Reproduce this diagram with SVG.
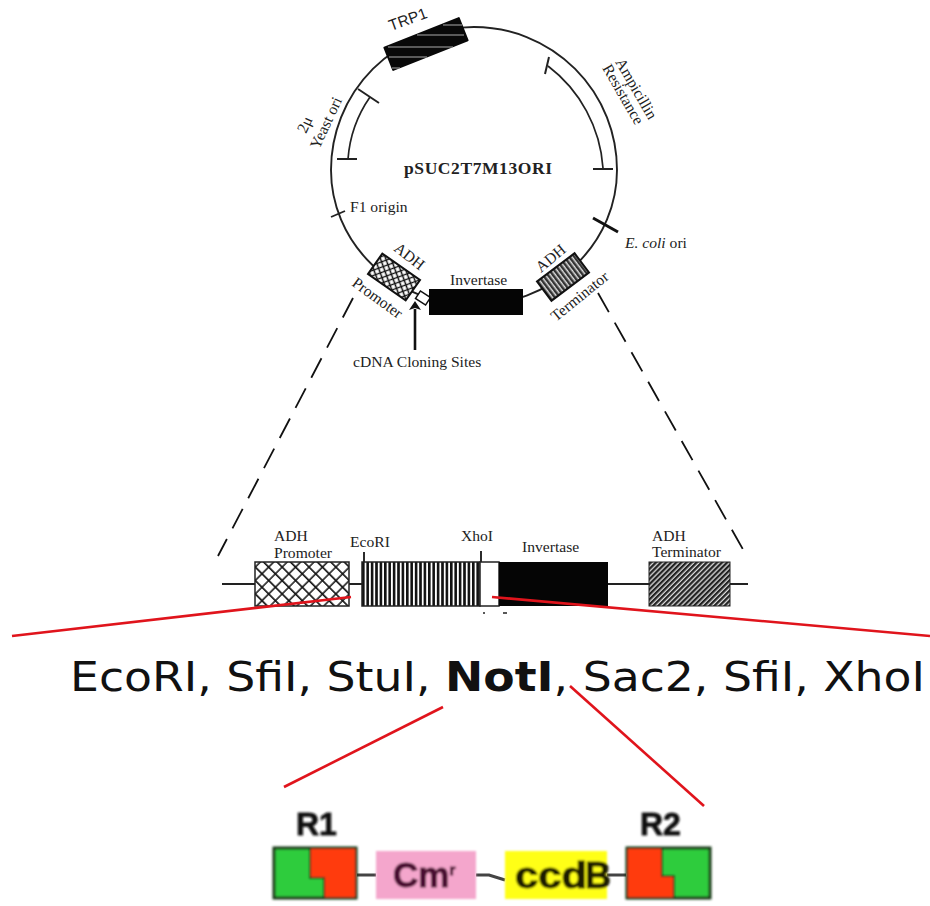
<svg xmlns="http://www.w3.org/2000/svg" width="930" height="906" viewBox="0 0 930 906">
<style>
.s{font-family:"Liberation Serif","Times New Roman",serif;font-size:15.600px;fill:#222}
.a{font-family:"Liberation Sans",Arial,sans-serif;font-size:15.500px;fill:#222}
.l{fill:none;stroke:#222;stroke-width:1.900}
.t{fill:none;stroke:#222;stroke-width:1.700}
.d{fill:none;stroke:#111;stroke-width:1.800;stroke-dasharray:22 12}
.r{fill:none;stroke:#e0141c;stroke-width:2.600}
.b{stroke:#111;stroke-width:2}
.g{font-family:"Liberation Sans",Arial,sans-serif;font-weight:bold;fill:#222}
</style>
<defs>
<pattern id="cross" width="5" height="5" patternUnits="userSpaceOnUse" patternTransform="rotate(35)"><rect width="5" height="5" fill="#fff"/><path d="M1.500 0V5M0 1.500H5" stroke="#111" stroke-width="1.300"/></pattern>
<pattern id="lat" width="9.500" height="9.500" patternUnits="userSpaceOnUse" patternTransform="rotate(45)"><rect width="9.500" height="9.500" fill="#fff"/><path d="M2 0V9.500M0 2H9.500" stroke="#111" stroke-width="1.500"/></pattern>
<pattern id="vert" width="4.400" height="6" patternUnits="userSpaceOnUse" x="362"><rect width="4.400" height="6" fill="#fff"/><rect width="2.600" height="6" fill="#111"/></pattern>
<pattern id="vert2" width="4" height="4" patternUnits="userSpaceOnUse"><rect width="4" height="4" fill="#ddd"/><rect width="2.500" height="4" fill="#333"/></pattern>
<pattern id="diag" width="3.600" height="5" patternUnits="userSpaceOnUse" patternTransform="rotate(45)"><rect width="3.600" height="5" fill="#ddd"/><rect width="2.300" height="5" fill="#222"/></pattern>
<filter id="soft" x="-5%" y="-5%" width="110%" height="110%"><feGaussianBlur stdDeviation="0.900"/></filter>
<marker id="arr" markerWidth="9" markerHeight="12" refX="1" refY="6" orient="auto" markerUnits="userSpaceOnUse"><path d="M0 0L9 6L0 12L2 6Z" fill="#111"/></marker>
</defs>
<rect width="930" height="906" fill="#fff"/>
<g id="connectors">
<path class="l" d="M331 170A143 143 0 0 1 617 170A143 135 0 0 1 331 170"/>
<path class="d" d="M353 298L218 556"/>
<path class="d" d="M598 293L745 553"/>
<path class="l" d="M222 584H255M349 584H362M608 584H649M730 584H748"/>
<path d="M415 350V309" fill="none" stroke="#111" stroke-width="2.600" marker-end="url(#arr)"/>
<path d="M357 875H376M476 875H489L505 880M607 875H626" fill="none" stroke="#444" stroke-width="3"/>
</g>
<g id="plasmid-label"><text class="s" x="404" y="174" style="font-weight:bold;font-size:17.500px" textLength="148">pSUC2T7M13ORI</text></g>
<g id="trp1">
<rect x="-41" y="-13" width="82" height="26" fill="#080808" rx="1" transform="translate(426 44) rotate(-21.600)"/>
<path d="M443 25H462M417 35H464M388 47H453M389 57H427M392 68H400" stroke="#aaa" stroke-width="1.200" fill="none"/>
<text class="a" transform="translate(391 31) rotate(-20)">TRP1</text>
</g>
<g id="ampicillin">
<path class="t" d="M548 66A140 140 0 0 1 603 168"/>
<path class="t" d="M549 57L545 74M593 169H613" style="stroke-width:2"/>
<text class="s" transform="translate(615 62) rotate(60)">Ampicillin</text>
<text class="s" transform="translate(602 68) rotate(60)">Resistance</text>
</g>
<g id="yeast-ori">
<path class="t" d="M370 97A125 125 0 0 0 348 159"/>
<path class="t" d="M358 89L379 103M337 159H357" style="stroke-width:2"/>
<text class="s" transform="translate(306 134) rotate(-65)">2μ</text>
<text class="s" transform="translate(319 150) rotate(-65)">Yeast ori</text>
</g>
<g id="f1-origin">
<path class="l" d="M331 217L345 211"/>
<text class="s" x="350" y="212">F1 origin</text>
</g>
<g id="ecoli-ori">
<path d="M593 218L618 232" stroke="#111" stroke-width="3"/>
<text class="s" x="625" y="248"><tspan font-style="italic">E. coli</tspan> ori</text>
</g>
<g id="adh-promoter-ring">
<rect x="-23" y="-12.500" width="46" height="25" transform="translate(394 277) rotate(35)" fill="url(#cross)" class="b"/>
<text class="s" transform="translate(393 250) rotate(38)">ADH</text>
<text class="s" transform="translate(351 285) rotate(36)">Promoter</text>
</g>
<g id="cloning-sites">
<rect x="-6" y="-4.500" width="12" height="9" transform="translate(423 298) rotate(33)" fill="#fff" stroke="#111" stroke-width="1.500"/>
<text class="s" x="353" y="367">cDNA Cloning Sites</text>
</g>
<g id="invertase-ring">
<rect x="429" y="289" width="94" height="26" fill="#050505"/>
<text class="s" x="450" y="285">Invertase</text>
</g>
<g id="adh-terminator-ring">
<rect x="-23.500" y="-12" width="47" height="24" transform="translate(563 277) rotate(-37)" fill="url(#vert2)" class="b"/>
<text class="s" transform="translate(541 273) rotate(-40)">ADH</text>
<text class="s" transform="translate(556 322) rotate(-39)">Terminator</text>
</g>
<g id="promoter-box">
<rect x="255" y="562" width="94" height="44" fill="url(#lat)" stroke="#222" stroke-width="1.500"/>
<text class="s" x="274" y="541">ADH</text>
<text class="s" x="274" y="558">Promoter</text>
</g>
<g id="mcs-box">
<rect x="362" y="562" width="118" height="44" fill="url(#vert)" stroke="#222" stroke-width="1.500"/>
<rect x="480" y="562" width="19" height="44" fill="#fff" stroke="#222" stroke-width="1.500"/>
<path class="l" d="M364 552V562M481 551V562"/>
<path d="M483 613H485M503 613H507" stroke="#222" stroke-width="1.500"/>
<text class="s" x="350" y="547">EcoRI</text>
<text class="s" x="461" y="541">XhoI</text>
</g>
<g id="invertase-box">
<rect x="499" y="562" width="109" height="44" fill="#050505"/>
<text class="s" x="522" y="552">Invertase</text>
</g>
<g id="terminator-box">
<rect x="649" y="562" width="81" height="44" fill="url(#diag)" stroke="#222" stroke-width="1"/>
<text class="s" x="652" y="541">ADH</text>
<text class="s" x="652" y="557">Terminator</text>
</g>
<g id="sites"><text x="70" y="691" textLength="855" lengthAdjust="spacingAndGlyphs" style="font-family:'DejaVu Sans',Verdana,sans-serif;font-size:41px;fill:#111">EcoRI, SfiI, StuI, <tspan font-weight="bold">NotI</tspan>, Sac2, SfiI, XhoI</text></g>
<g id="r1" filter="url(#soft)">
<rect x="274" y="848" width="82" height="50" fill="#2ecc3c" stroke="#1c3a1c" stroke-width="3"/>
<path d="M310 848H356V898H324V878H310Z" fill="#ff3a0a" stroke="#1c3a1c" stroke-width="2"/>
<text class="g" x="296" y="835" style="font-size:32px;fill:#111;stroke:#111;stroke-width:0.800">R1</text>
</g>
<g id="cm" filter="url(#soft)">
<rect x="376" y="851" width="100" height="48" fill="#f4a6cc"/>
<text class="g" x="393" y="887" style="font-size:35px;fill:#4a1030;stroke:#4a1030;stroke-width:1">Cm<tspan font-size="15" dy="-12">r</tspan></text>
</g>
<g id="ccdb" filter="url(#soft)">
<rect x="505" y="851" width="102" height="48" fill="#ffff14"/>
<text class="g" x="515" y="888" textLength="72" lengthAdjust="spacingAndGlyphs" style="font-size:36px;fill:#1c1c00;stroke:#1c1c00;stroke-width:1">ccd</text>
<text class="g" x="585" y="888" style="font-size:36px;fill:#1c1c00;stroke:#1c1c00;stroke-width:1">B</text>
</g>
<g id="r2" filter="url(#soft)">
<rect x="627" y="848" width="83" height="50" fill="#2ecc3c" stroke="#1c3a1c" stroke-width="3"/>
<path d="M627 848H662V876H674V898H627Z" fill="#ff3a0a" stroke="#1c3a1c" stroke-width="2"/>
<text class="g" x="640" y="835" style="font-size:32px;fill:#111;stroke:#111;stroke-width:0.800">R2</text>
</g>
<g id="connectors-over">
<path class="r" d="M12 636L351 597"/>
<path class="r" d="M492 597L930 636"/>
<path class="r" d="M443 707L284 787"/>
<path class="r" d="M570 686L704 806"/>
</g>
</svg>
